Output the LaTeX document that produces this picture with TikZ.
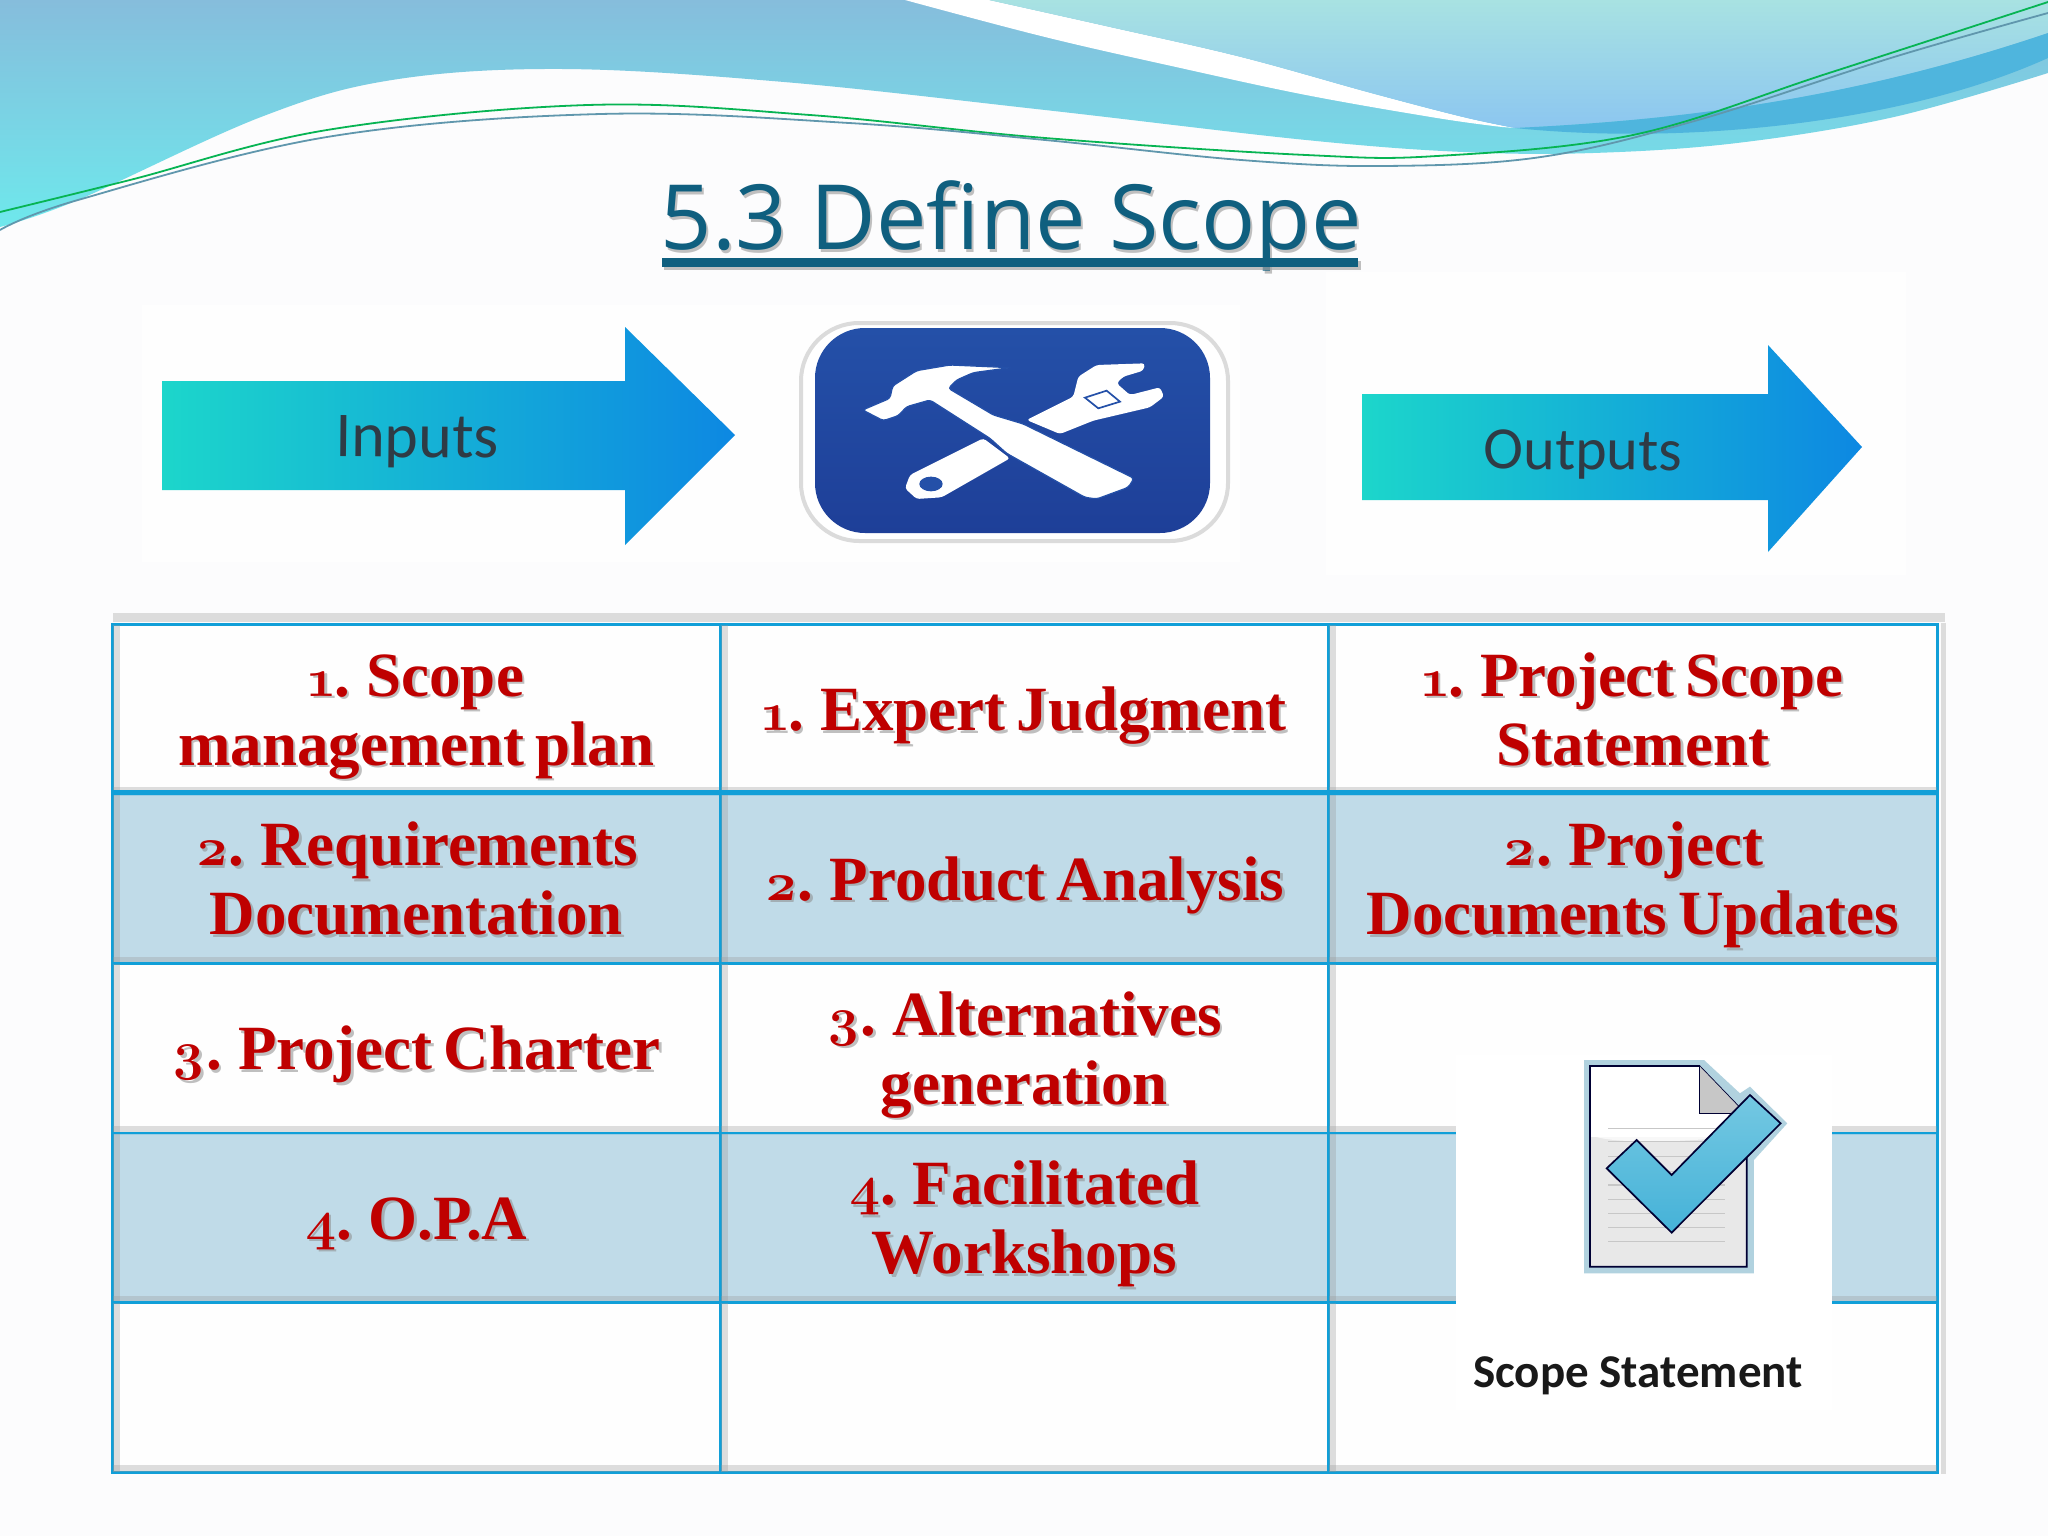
\documentclass[tikz,border=0pt]{standalone}
\usepackage{fontspec}
\usetikzlibrary{shapes.geometric,calc}
\newfontfamily\numfont[Numbers=OldStyle]{Latin Modern Roman}
\newfontfamily\cellfont[WordSpace=0.7]{Liberation Serif}
\newfontfamily\titlefont{Open Sans}
\newfontfamily\capfont{Carlito}
\newcommand{\dg}[1]{{\numfont\bfseries\fontsize{54}{69}\selectfont #1}}
\definecolor{bgc}{HTML}{FCFCFD}
\definecolor{waveTop}{HTML}{86BDDC}
\definecolor{waveBot}{HTML}{6EE8EC}
\definecolor{paleTop}{HTML}{A8E2E2}
\definecolor{paleBot}{HTML}{8CC6F0}
\definecolor{bandc}{HTML}{4FB5DD}
\definecolor{titlec}{HTML}{0F5F7F}
\definecolor{rulec}{HTML}{119FD8}
\definecolor{altc}{HTML}{B6D6E5}
\definecolor{redc}{HTML}{BF0000}
\definecolor{iconb}{HTML}{2450A8}
\definecolor{iconbd}{HTML}{1E3F98}
\definecolor{arrL}{HTML}{1CD6CB}
\definecolor{arrM}{HTML}{12AEE0}
\definecolor{arrR}{HTML}{0D88E2}
\definecolor{arrtxt}{HTML}{2F3B45}
\tikzset{
  cellbox/.style={draw=rulec,line width=2.6pt,minimum width=#1,minimum height=170pt,inner sep=0pt,anchor=north west},
  celltxt/.style={font=\cellfont\bfseries\fontsize{63}{69}\selectfont,text=redc,align=center,inner sep=0pt},
  cellshd/.style={font=\cellfont\bfseries\fontsize{63}{69}\selectfont,text=black!45,opacity=.55,align=center,inner sep=0pt},
  arrowtxt/.style={font=\capfont\fontsize{60}{60}\selectfont,text=arrtxt,inner sep=0pt,rotate=-.6},
  shadeband/.style={draw=black!40,opacity=.32,line width=#1},
  arrowfill/.style={left color=arrL,middle color=arrM,right color=arrR},
}
\begin{document}
\begin{tikzpicture}[x=1pt,y=-1pt]
\useasboundingbox (0,0) rectangle (2048,1536);
\fill[bgc] (0,0) rectangle (2048,1536);
% waves
\shade[top color=waveTop,bottom color=waveBot] (0,227) -- plot[smooth,tension=.6] coordinates {(0,227) (78,200) (261,117) (392,80) (562,69) (784,82) (1045,110) (1306,140) (1463,152) (1593,153) (1737,143) (1894,117) (2048,73)} -- (2048,0) -- (0,0) -- cycle;
\fill[white] (905,0) -- plot[smooth,tension=.6] coordinates {(905,0) (1045,37) (1176,67) (1306,95) (1437,118) (1502,127)} -- (1515,128) -- plot[smooth,tension=.6] coordinates {(1515,128) (1463,117) (1371,93) (1241,57) (1110,27) (989,0)} -- cycle;
\shade[top color=paleTop,bottom color=paleBot] (989,0) -- plot[smooth,tension=.6] coordinates {(989,0) (1110,27) (1241,57) (1371,93) (1463,117) (1515,128)} .. controls (1680,120) and (1850,100) .. (2048,33) -- (2048,0) -- cycle;
\fill[bandc] (1515,128) .. controls (1680,120) and (1850,100) .. (2048,33) -- (2048,58) .. controls (1900,125) and (1680,145) .. (1515,128) -- cycle;
% thin curves
\draw[line width=1.8pt,color=rulec!45!green!85!black] plot[smooth,tension=.6] coordinates {(0,212) (130,180) (327,130) (588,105) (810,115) (1045,138) (1306,155) (1437,156) (1633,135) (1829,73) (2048,2)};
\draw[line width=1.8pt,color=rulec!60!black!65!white] plot[smooth,tension=.6] coordinates {(0,230) (78,200) (327,137) (601,114) (849,123) (1045,140) (1241,160) (1384,166) (1541,157) (1698,120) (1894,57) (2048,13)};
% images' white backings
\fill[white,opacity=.75] (142,305) rectangle (738,562);
\fill[white,opacity=.75] (738,305) rectangle (1240,562);
\fill[white,opacity=.75] (1326,272) rectangle (1906,575);
% title
\node[inner sep=0pt,text=black!35,opacity=.7] (titleS) at (1013,229) {\titlefont\fontsize{90}{90}\selectfont 5.3 Define Scope};
\node[inner sep=0pt,text=titlec] (titleT) at (1011,226) {\titlefont\fontsize{90}{90}\selectfont 5.3 Define Scope};
\fill[black!35,opacity=.7] (664,261) rectangle (1361,270);
\fill[titlec] (662,258) rectangle (1358,267);
% arrows
\shade[arrowfill]
 (162,381) -- (625,381) -- (625,327) -- (735,435) -- (625,545) -- (625,490) -- (162,490) -- cycle;
\node[arrowtxt,font=\capfont\fontsize{64}{64}\selectfont] (inp) at (417,442) {Inputs};
\shade[arrowfill]
 (1362,394) -- (1768,394) -- (1768,345) -- (1862,447) -- (1768,552) -- (1768,500) -- (1362,500) -- cycle;
\node[arrowtxt] (outp) at (1583,455) {Outputs};
% tool icon
\draw[draw=black!14,fill=white,line width=4pt,rounded corners=58pt] (801,323) rectangle (1228,541);
\shade[top color=iconb,bottom color=iconbd,rounded corners=50pt] (815,328) rectangle (1210,533);
\begin{scope}[shift={(760,300)},x=.3333pt,y=-.3333pt]
 \fill[white,rounded corners=3pt] (435,565) -- (450,525) -- (670,415) -- (750,475) -- (545,592) -- (470,597) -- cycle;
 \fill[white,rounded corners=3pt] (800,360) -- (940,290) -- (955,230) -- (1010,195) -- (1155,190) -- (1150,212) -- (1090,230) -- (1070,250) -- (1110,285) -- (1200,262) -- (1212,290) -- (1170,322) -- (1000,362) -- (900,402) -- cycle;
 \fill[iconb] (513,552) ellipse [x radius=35,y radius=22];
 \draw[iconb,line width=1.7pt] (975,293) -- (1040,272) -- (1080,305) -- (1015,325) -- cycle;
 \fill[white,draw=iconb,line width=1.2pt,rounded corners=3pt] (308,330) -- (390,295) -- (398,258) -- (470,212) -- (570,195) -- (750,203) -- (640,218) -- (590,240) -- (565,265) -- (700,345) -- (790,372) -- (1122,535) -- (1105,562) -- (1010,597) -- (975,592) -- (740,460) -- (690,415) -- (510,300) -- (440,320) -- (415,347) -- (370,362) -- cycle;
\end{scope}
% table
\foreach \r/\y/\fc in {1/623/white,2/792.5/altc,3/962/white,4/1131.5/altc,5/1301/white}{
  \foreach \c/\x/\w in {1/111/608,2/719/608,3/1327/609}{
    \node[cellbox=\w pt,fill=\fc,fill opacity=.85] (c\r\c) at (\x,\y) {};
    \draw[shadeband=7pt] ($(c\r\c.south west)+(2,-5)$) -- ($(c\r\c.south east)+(-2,-5)$);
    \draw[shadeband=7pt] ($(c\r\c.north west)+(5,2)$) -- ($(c\r\c.south west)+(5,-2)$);
  }
}
\draw[rulec,line width=5pt] (c21.north west) -- (c23.north east);
\draw[shadeband=9pt] ($(c11.north west)+(2,-6)$) -- ($(c13.north east)+(6,-6)$);
\draw[shadeband=5pt] ($(c13.north east)+(5,0)$) -- ($(c53.south east)+(5,0)$);
% cell texts
\newcommand{\celltext}[3]{%
  \node[cellshd] at ($(#1.center)+(2.5,8)$) {\rule{0pt}{50pt}#3\rule[-18pt]{0pt}{18pt}};
  \node[celltxt] (#2) at ($(#1.center)+(0,5.5)$) {\rule{0pt}{50pt}#3\rule[-18pt]{0pt}{18pt}};}
\celltext{c11}{t11}{\dg{1}. Scope\\management plan}
\celltext{c12}{t12}{\dg{1}. Expert Judgment}
\celltext{c13}{t13}{\dg{1}. Project Scope\\Statement}
\celltext{c21}{t21}{\dg{2}. Requirements\\Documentation}
\celltext{c22}{t22}{\dg{2}. Product Analysis}
\celltext{c23}{t23}{\dg{2}. Project\\Documents Updates}
\celltext{c31}{t31}{\dg{3}. Project Charter}
\celltext{c32}{t32}{\dg{3}. Alternatives\\generation}
\celltext{c41}{t41}{\dg{4}. O.P.A}
\celltext{c42}{t42}{\dg{4}. Facilitated\\Workshops}
% scope statement picture
\fill[white] (1456,1055) rectangle (1832,1410);
\begin{scope}[shift={(1430,1040)},x=.3333pt,y=-.3333pt]
 \fill[cyan!25!teal!35] (462,60) -- (822,60) -- (930,160) -- (960,140) -- (1072,250) -- (972,360) -- (972,700) -- (462,700) -- cycle;
 \fill[white] (480,78) -- (808,78) -- (950,225) -- (950,680) -- (480,680) -- cycle;
 \fill[black!9] (482,290) -- (948,290) -- (948,678) -- (482,678) -- cycle;
 \fill[white,opacity=.7] (482,285) .. controls (560,320) and (850,300) .. (948,285) -- cycle;
 \foreach \ly in {265,305,350,395,435,478,520,562,605} \draw[black!22,line width=1.1pt] (535,\ly) -- (885,\ly);
 \draw[line width=1.7pt,color=black!80!blue] (950,225) -- (950,680) -- (480,680) -- (480,78) -- (808,78) -- (950,225);
 \fill[black!22] (808,78) -- (808,220) -- (945,220) -- cycle;
 \draw[line width=1.5pt,color=black!80!blue] (808,78) -- (808,220) -- (930,220);
 \definecolor{chkT}{HTML}{74C8E2}\definecolor{chkB}{HTML}{45B2D8}
 \shade[top color=chkT,bottom color=chkB,draw=black!80!blue,line width=1.7pt] (620,300) -- (725,405) -- (960,165) -- (1052,250) -- (725,578) -- (530,385) -- cycle;
\end{scope}
\node[inner sep=0pt,font=\capfont\bfseries\fontsize{47}{47}\selectfont,text=black!90] (sstmt) at (1638,1376) {Scope Statement};
\end{tikzpicture}
\end{document}
